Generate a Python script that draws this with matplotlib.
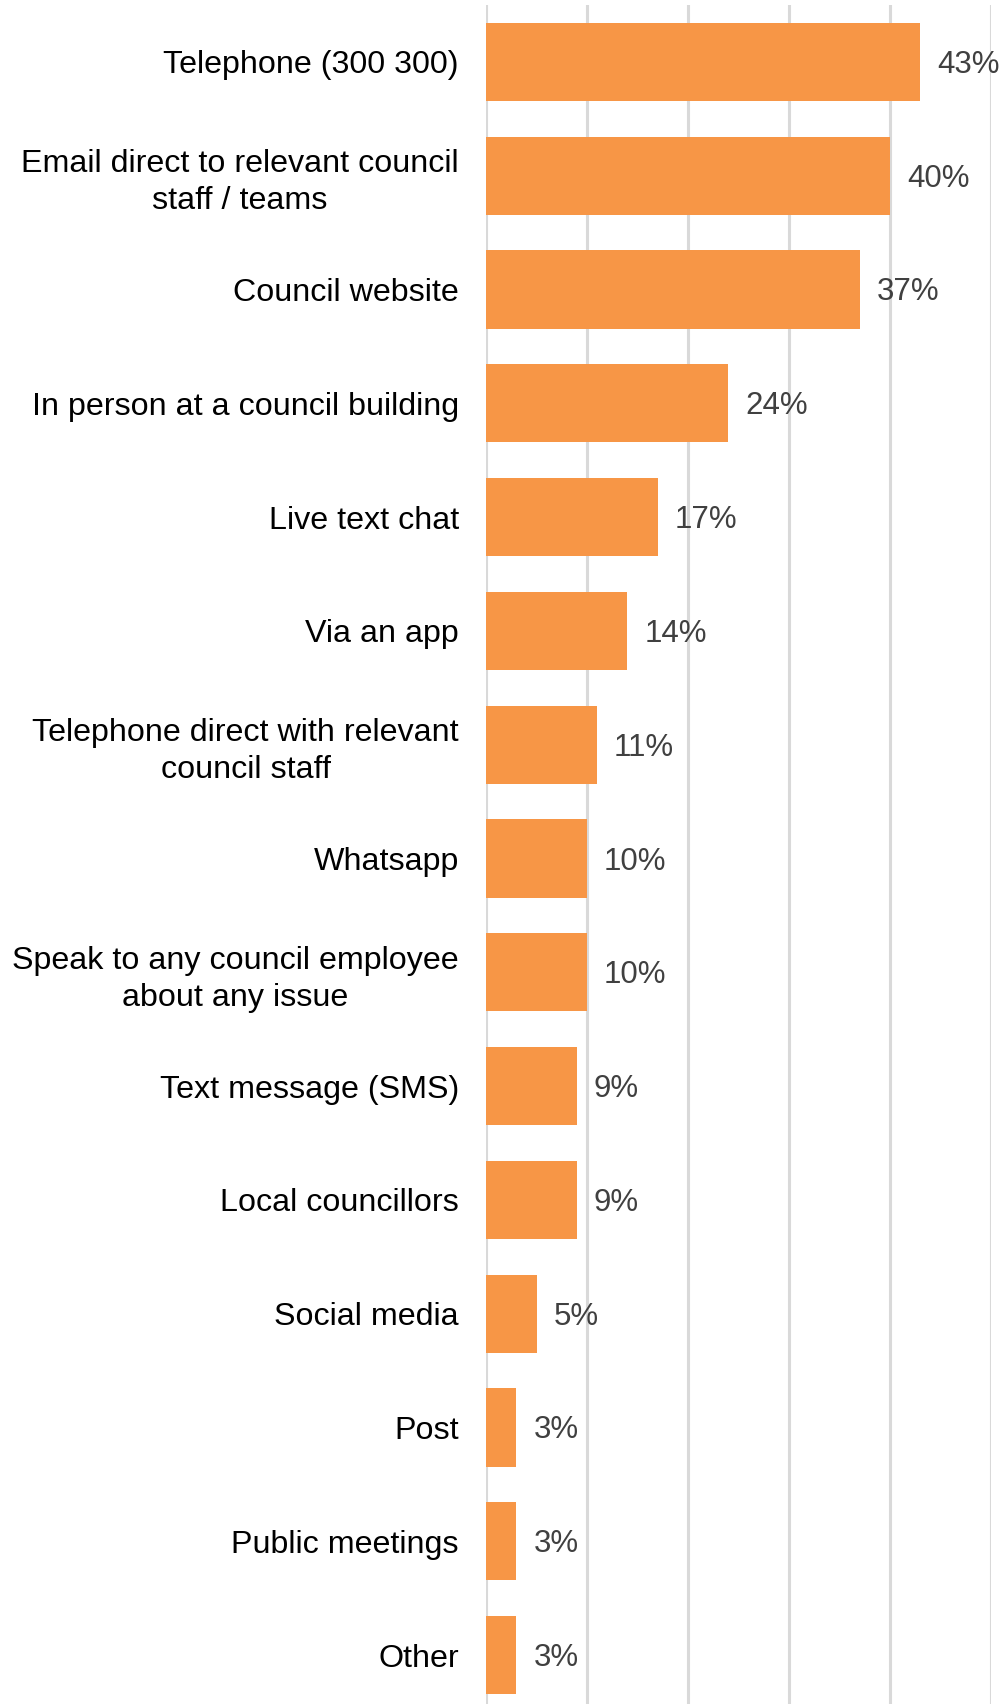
import matplotlib.pyplot as plt

plt.rcParams['font.family'] = ['Liberation Sans', 'DejaVu Sans']

channels = [
    'Telephone (300 300)',
    'Email direct to relevant council\nstaff / teams',
    'Council website',
    'In person at a council building',
    'Live text chat',
    'Via an app',
    'Telephone direct with relevant\ncouncil staff',
    'Whatsapp',
    'Speak to any council employee\nabout any issue',
    'Text message (SMS)',
    'Local councillors',
    'Social media',
    'Post',
    'Public meetings',
    'Other',
]
shares = [43, 40, 37, 24, 17, 14, 11, 10, 10, 9, 9, 5, 3, 3, 3]
grid_ticks = [0, 10, 20, 30, 40, 50]

W, H = 1002, 1704
fig = plt.figure(figsize=(W / 100, H / 100), dpi=100)
# axes box in pixels: left 486, right 991, top 5, bottom runs past the canvas
left, right, top, bottom = 486, 991, 5, 1712
ax = fig.add_axes([left / W, (H - bottom) / H, (right - left) / W, (bottom - top) / H])

pos = list(range(len(channels)))
ax.barh(pos, shares, height=0.688, color='#F79646', zorder=3)
ax.set_ylim(len(channels) - 0.5, -0.5)
ax.set_xlim(0, 50)

ax.set_xticks(grid_ticks)
ax.xaxis.grid(True, color='#D9D9D9', linewidth=2.2, zorder=0)
ax.tick_params(axis='x', length=0, labelbottom=False)
ax.tick_params(axis='y', length=0, pad=19.5)
ax.set_yticks(pos)
ax.set_yticklabels(channels, fontsize=23.2, color='black',
                   multialignment='center', linespacing=1.3)
for s in ax.spines.values():
    s.set_visible(False)

for p, v in zip(pos, shares):
    ax.annotate(f'{v}%', (v, p), xytext=(17, -3), textcoords='offset pixels',
                va='center', ha='left', fontsize=22.5, color='#404040', zorder=4)

fig.savefig('out.png', dpi=100)
